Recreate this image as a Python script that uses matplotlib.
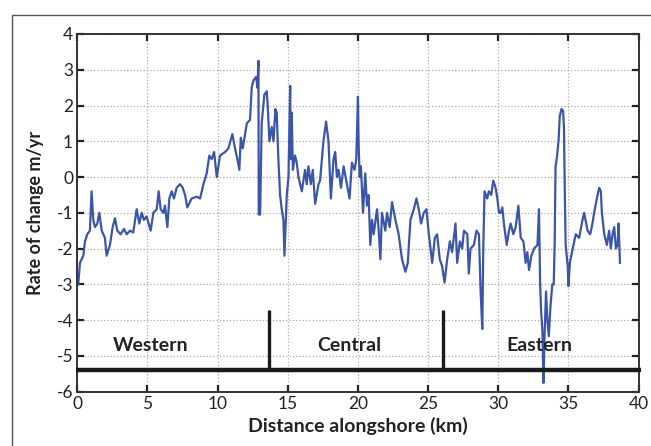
import matplotlib
matplotlib.use('Agg')
import matplotlib.pyplot as plt
from matplotlib.lines import Line2D

plt.rcParams['font.family'] = ['Lato', 'DejaVu Sans']
plt.rcParams['axes.unicode_minus'] = False

# Distancia alongshore (km) y tasa de cambio (m/yr)
dist_km = [0.07, 0.19, 0.43, 0.55, 0.71, 0.90, 1.02, 1.14, 1.26, 1.43, 1.57, 1.74, 1.97, 2.09,
           2.33, 2.52, 2.69, 2.85, 3.09, 3.33, 3.52, 3.76, 3.99, 4.23, 4.42, 4.59, 4.75, 4.94,
           5.23, 5.42, 5.66, 5.80, 5.94, 6.13, 6.25, 6.42, 6.56, 6.73, 6.89, 7.08, 7.32, 7.51,
           7.68, 7.84, 8.15, 8.51, 8.75, 8.99, 9.22, 9.41, 9.58, 9.75, 9.94, 10.17, 10.53,
           10.77, 11.05, 11.24, 11.41, 11.55, 11.65, 11.79, 11.96, 12.08, 12.31, 12.43, 12.55,
           12.74, 12.84, 12.91, 12.93, 13.03, 13.14, 13.33, 13.50, 13.57, 13.69, 13.86, 13.98,
           14.12, 14.21, 14.33, 14.45, 14.57, 14.69, 14.76, 14.83, 14.93, 15.05, 15.17, 15.21,
           15.28, 15.36, 15.52, 15.64, 15.76, 16.00, 16.23, 16.35, 16.47, 16.64, 16.78, 16.95,
           17.19, 17.30, 17.54, 17.73, 17.90, 18.07, 18.26, 18.38, 18.50, 18.62, 18.79, 18.98,
           19.21, 19.40, 19.57, 19.76, 19.88, 20.00, 20.05, 20.12, 20.21, 20.36, 20.52, 20.64,
           20.76, 20.88, 21.00, 21.12, 21.36, 21.48, 21.60, 21.71, 21.95, 22.07, 22.26, 22.43,
           22.67, 22.90, 23.14, 23.38, 23.55, 23.74, 23.98, 24.17, 24.33, 24.50, 24.69, 24.88,
           25.05, 25.17, 25.29, 25.48, 25.64, 25.83, 26.00, 26.17, 26.36, 26.55, 26.71, 26.95,
           27.07, 27.26, 27.43, 27.55, 27.79, 27.90, 28.02, 28.26, 28.45, 28.62, 28.74, 28.86,
           28.93, 29.02, 29.21, 29.33, 29.50, 29.64, 29.81, 29.93, 30.05, 30.17, 30.29, 30.40,
           30.60, 30.76, 30.88, 31.07, 31.24, 31.43, 31.60, 31.79, 31.95, 32.07, 32.19, 32.36,
           32.55, 32.79, 32.90, 32.98, 33.05, 33.14, 33.22, 33.30, 33.40, 33.50, 33.60, 33.72,
           33.85, 33.95, 34.02, 34.08, 34.18, 34.30, 34.38, 34.50, 34.62, 34.68, 34.74, 34.80,
           34.95, 35.00, 35.10, 35.25, 35.52, 35.76, 36.00, 36.12, 36.36, 36.55, 36.71, 36.83,
           37.02, 37.19, 37.31, 37.38, 37.55, 37.74, 37.90, 38.02, 38.14, 38.26, 38.38, 38.50,
           38.57, 38.67]
rate = [-3.0, -2.4, -2.2, -1.8, -1.6, -1.5, -0.4, -1.2, -1.4, -1.3, -1.0, -1.5, -1.7, -2.2,
        -1.9, -1.4, -1.15, -1.5, -1.6, -1.45, -1.6, -1.5, -1.55, -0.9, -1.3, -1.0, -1.2, -1.1,
        -1.5, -1.0, -0.9, -0.4, -0.9, -1.0, -0.8, -1.4, -0.6, -0.4, -0.6, -0.3, -0.2, -0.3,
        -0.5, -0.85, -0.6, -0.55, -0.6, -0.2, 0.1, 0.6, 0.5, 0.7, 0.0, 0.6, 0.7,
        0.8, 1.2, 0.8, 0.5, 0.2, 1.1, 0.8, 1.2, 1.5, 1.6, 2.5, 2.7,
        2.8, 2.5, 3.25, -1.05, -1.05, 1.5, 2.3, 2.4, 2.0, 1.0, 1.4, 1.0,
        1.9, 1.8, 0.5, -0.5, -0.9, -1.2, -2.2, -1.5, -0.5, 0.0, 2.55, 0.5,
        1.8, 0.2, 0.6, 0.4, 0.0, -0.4, 0.2, -0.2, 0.3, -0.2, 0.2, -0.75,
        -0.2, -0.1, 1.0, 1.55, 1.0, -0.6, 0.5, 0.7, 0.0, 0.2, -0.3, 0.3,
        -0.2, -0.6, 0.4, 0.2, 0.5, 2.25, 0.9, 0.0, 0.3, -1.0, 0.1, -0.8,
        -0.5, -1.9, -1.2, -1.6, -0.9, -1.5, -2.3, -1.0, -1.5, -1.0, -1.4, -0.7,
        -1.2, -1.6, -2.3, -2.65, -2.4, -1.2, -0.9, -0.6, -0.9, -1.3, -1.0, -0.9,
        -1.6, -2.0, -2.4, -1.7, -1.6, -2.3, -2.5, -2.95, -2.3, -1.8, -2.1, -1.3,
        -2.4, -1.8, -2.0, -1.5, -1.6, -2.7, -2.0, -1.9, -1.5, -1.6, -3.2, -4.25,
        -2.0, -0.4, -0.6, -0.4, -0.5, -0.1, -0.3, -0.6, -1.0, -1.0, -0.85, -1.3,
        -1.9, -1.5, -1.3, -1.6, -1.4, -0.8, -1.7, -1.8, -2.4, -2.1, -2.6, -2.2,
        -2.0, -1.9, -0.9, -2.97, -3.72, -4.3, -5.76, -4.4, -3.2, -4.0, -4.45, -3.6,
        -3.0, -3.0, -1.8, 0.3, 0.55, 1.05, 1.7, 1.9, 1.85, 1.35, -0.45, -1.9,
        -2.5, -3.05, -2.4, -2.1, -1.6, -1.7, -1.2, -1.0, -1.5, -1.6, -1.3, -1.0,
        -0.6, -0.3, -0.4, -1.0, -1.6, -1.9, -1.5, -2.0, -1.6, -1.4, -2.0, -1.9,
        -1.3, -2.4]

# Sectores de la costa
sector_names = ['Western', 'Central', 'Eastern']
sector_label_x = [5.2, 19.4, 32.9]
sector_bounds = [13.65, 26.05]
base_y = -5.4
bound_top = -3.72

fig = plt.figure(figsize=(6.51, 4.46), dpi=100)
ax = fig.add_axes([0.1187, 0.122, 0.8623, 0.8018])

ax.plot(dist_km, rate, color='#3b55aa', linewidth=1.6)

ax.plot([-0.1, 40.15], [base_y, base_y], color='#1a1a1a', linewidth=3.2,
        solid_capstyle='butt', clip_on=False, zorder=5)
for xb in sector_bounds:
    ax.plot([xb, xb], [base_y, bound_top], color='#1a1a1a', linewidth=2.4,
            solid_capstyle='butt', zorder=5)
for name, xl in zip(sector_names, sector_label_x):
    ax.text(xl, -4.72, name, ha='center', va='center', fontsize=14,
            fontweight='bold', color='#222222')

ax.set_xlim(0, 40)
ax.set_ylim(-6, 4)
ax.set_xticks(range(0, 41, 5))
ax.set_yticks(range(-6, 5))
ax.grid(True, linestyle=':', color='#aaaaaa', linewidth=0.9)
ax.tick_params(direction='in', length=5, width=1.6, top=True, right=True,
               labelsize=12.5, colors='#222222', pad=3)
for sp in ax.spines.values():
    sp.set_color('#333333')
    sp.set_linewidth(1.4)

ax.set_xlabel('Distance alongshore (km)', fontsize=14, fontweight='bold',
              color='#222222', labelpad=4)
ax.set_ylabel('Rate of change m/yr', fontsize=13, fontweight='bold',
              color='#222222', labelpad=9)

# Marco exterior de la figura
fig.add_artist(Line2D([0.0184, 0.0184, 1.0], [0.0, 0.966, 0.966],
                      transform=fig.transFigure, color='#555555', linewidth=1.0))

fig.savefig('out.png', dpi=100)
